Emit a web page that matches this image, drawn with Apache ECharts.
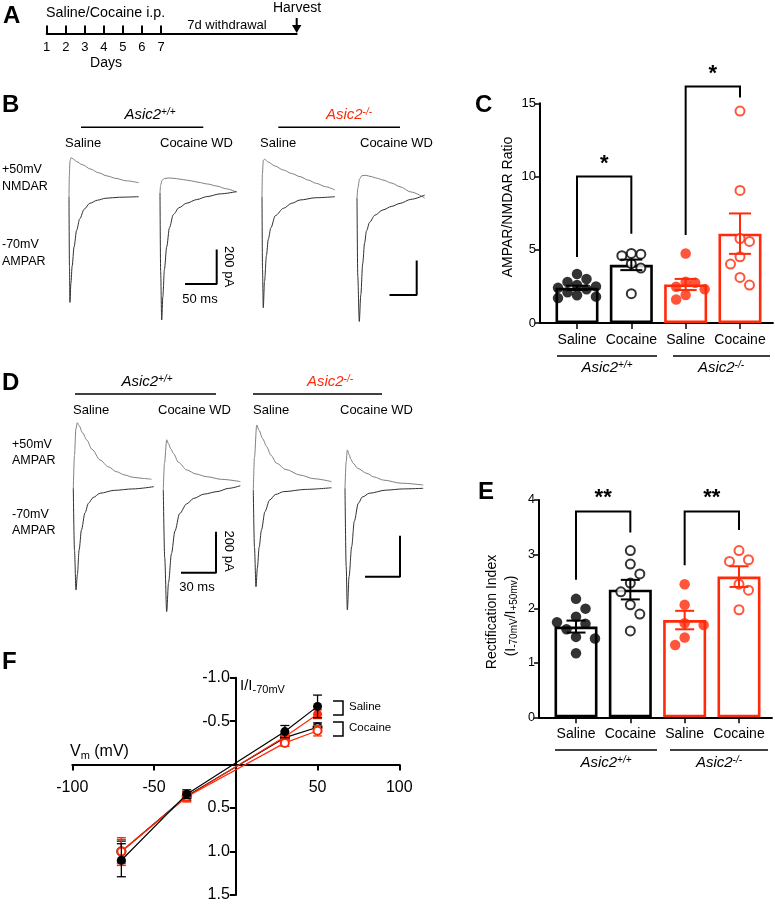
<!DOCTYPE html>
<html><head><meta charset="utf-8">
<script src="https://cdn.jsdelivr.net/npm/echarts@6/dist/echarts.min.js"></script>
<style>html,body{margin:0;padding:0;background:#fff}#c{width:775px;height:904px}</style>
</head><body><div id="c"></div>
<script>
// ================= DATA =================
const groupNames = ['Saline', 'Cocaine', 'Saline', 'Cocaine'];
const genotypeWT = 'Asic2';
// Panel A
const days = [1, 2, 3, 4, 5, 6, 7];
// Panel C : AMPAR/NMDAR ratio
const cMeans = [2.40, 3.97, 2.63, 6.10];
const cSem = [0.15, 0.36, 0.38, 1.38];
const cWtSaline = [3.35, 3.0, 2.8, 2.6, 2.5, 2.4, 2.3, 2.1, 1.9, 1.8, 1.7];
const cWtCocaine = [4.6, 4.7, 4.75, 4.05, 3.75, 2.0];
const cKoSaline = [4.75, 2.82, 2.75, 2.48, 2.3, 1.91, 1.61];
const cKoCocaine = [14.47, 9.05, 5.77, 5.57, 4.52, 4.02, 3.11, 2.59];
const cBrackets = [[1, 2, 10.0, 4.5, 6.1, '*'], [3, 4, 16.15, 6.0, 15.4, '*']];
// Panel E : rectification index
const eMeans = [1.67, 2.35, 1.79, 2.59];
const eSem = [0.11, 0.18, 0.17, 0.19];
const eWtSaline = [2.18, 2.0, 1.85, 1.75, 1.72, 1.62, 1.48, 1.45, 1.18];
const eWtCocaine = [3.07, 2.82, 2.64, 2.47, 2.31, 2.07, 1.90, 1.59];
const eKoSaline = [2.45, 2.07, 1.73, 1.70, 1.47, 1.33];
const eKoCocaine = [3.07, 2.90, 2.87, 2.45, 2.34, 1.98];
const eBrackets = [[1, 2, 3.79, 2.53, 3.40, '**'], [3, 4, 3.79, 2.80, 3.45, '**']];
// Panel F : I-V relation
const fVm = [-70, -30, 30, 50];
const fWtSaline = [1.10, 0.34, -0.38, -0.67];
const fWtSalineSem = [0.19, 0.05, 0.07, 0.13];
const fWtCocaine = [1.00, 0.36, -0.31, -0.43];
const fWtCocaineSem = [0.12, 0.05, 0.04, 0.05];
const fKoSaline = [1.00, 0.37, -0.32, -0.58];
const fKoSalineSem = [0.16, 0.06, 0.04, 0.05];
const fKoCocaine = [1.00, 0.37, -0.25, -0.39];
const fKoCocaineSem = [0.14, 0.05, 0.04, 0.06];
// Panel B traces [ms, pA]
const bWtSalNmda = [[0,0],[0.5,120],[1.5,205],[3,225],[6,220],[12,203],[21,185],[34,160],[47,138],[60,120],[74,106],[90,92],[110,81]];
const bWtSalAmpa = [[0,0],[0.7,-400],[1.5,-611],[3,-500],[5,-400],[8,-290],[12,-195],[17,-128],[24,-72],[33,-38],[45,-20],[58,-9],[80,-3],[110,0]];
const bWtCocNmda = [[0,0],[1,45],[3,72],[7,84],[15,87],[26,83],[37,77],[50,70],[60,62],[75,52],[90,40],[105,24],[121,5]];
const bWtCocAmpa = [[0,0],[1,-450],[2.7,-734],[4.5,-600],[7,-440],[10.6,-311],[15,-200],[21,-125],[30,-85],[42,-59],[58,-38],[74,-21],[95,-5],[121,8]];
const bKoSalNmda = [[0,0],[0.6,130],[2,210],[4,216],[10,200],[20,178],[34,154],[47,134],[60,116],[73,96],[86,77],[100,58],[115,39]];
const bKoSalAmpa = [[0,0],[0.8,-420],[2,-642],[4,-490],[7,-340],[10,-245],[14,-180],[21,-110],[34,-67],[47,-38],[60,-19],[85,-6],[115,0]];
const bKoCocNmda = [[0,0],[1.5,60],[4,110],[8,130],[14,131],[22,124],[32,114],[41,104],[55,86],[68,65],[85,35],[107,0]];
const bKoCocAmpa = [[0,0],[1.2,-450],[3.6,-714],[6,-560],[9,-380],[12,-260],[15,-190],[20,-140],[28,-100],[41,-69],[55,-48],[68,-31],[85,-8],[107,17]];
// Panel D traces [ms, pA]
const dWtSalP50 = [[0,0],[1,160],[2.2,290],[3.4,320],[5,305],[8,270],[11.5,236],[16,190],[23,138],[30,105],[37,81],[44,65],[51,54],[60,48],[67,44]];
const dWtSalM70 = [[0,0],[1,-300],[2.3,-496],[3.5,-420],[5,-300],[7,-203],[10,-120],[13,-73],[17,-45],[23,-24],[35,-10],[51,-3],[69,8]];
const dWtCocP50 = [[0,0],[1,130],[2.9,245],[4.5,225],[6.5,200],[8.6,179],[13,135],[20,98],[28,78],[37,65],[50,52],[66,41]];
const dWtCocM70 = [[0,0],[1.2,-330],[2.9,-593],[4.5,-450],[7,-310],[10,-200],[14,-115],[20,-68],[26,-41],[35,-20],[46,-8],[56,8],[66,21]];
const dKoSalP50 = [[0,0],[1,160],[2.9,317],[5,290],[8,250],[11.5,211],[15,170],[20,130],[28,100],[40,73],[52,55],[67,41]];
const dKoSalM70 = [[0,0],[1,-280],[2.3,-472],[3.5,-380],[5,-280],[7,-195],[10,-105],[14,-49],[19,-22],[26,-8],[45,3],[67,11]];
const dKoCocP50 = [[0,0],[1,130],[2,187],[3.5,165],[5,142],[7,122],[11,97],[18.6,73],[25,55],[33,40],[48,25],[67,16]];
const dKoCocM70 = [[0,0],[1,-380],[2,-593],[3.5,-430],[5.7,-285],[8,-160],[11.4,-73],[15,-42],[21,-24],[35,-9],[50,-3],[67,0]];
// scale bars  [ms, pA]
const scaleB = [50, 200], scaleB2 = [43, 200], scaleD = [30, 200], scaleD2 = [30, 200];

// ================= STYLE / LAYOUT =================
const FONT = '"Liberation Sans", Arial, Helvetica, sans-serif';
const RED = '#ff2a0a', BLK = '#000';
const groupColors = [BLK, BLK, RED, RED];
const groupFilled = [true, false, true, false];

const grids = [], xAxes = [], yAxes = [], series = [];
function addGrid(g, xa, ya) {
  grids.push(g);
  const gi = grids.length - 1;
  xAxes.push(Object.assign({gridIndex: gi}, xa));
  yAxes.push(Object.assign({gridIndex: gi}, ya));
  return gi;
}
const hiddenAxis = (min, max) => ({type: 'value', min, max, show: false, splitLine: {show: false}});

// ---------- trace panels ----------
function traceGrid(x0, y0, pxMs, pxPa, tMin, tMax, pMin, pMax) {
  return addGrid({left: x0 + tMin * pxMs, top: y0 - pMax * pxPa,
    width: (tMax - tMin) * pxMs, height: (pMax - pMin) * pxPa},
    hiddenAxis(tMin, tMax), hiddenAxis(pMin, pMax));
}
function traceSeries(gi, data, color, w) {
  series.push({type: 'line', xAxisIndex: gi, yAxisIndex: gi, data, showSymbol: false, symbol: 'none',
    smooth: 0.3, smoothMonotone: 'x', lineStyle: {color, width: w}, silent: true, clip: false, animation: false});
}
const bPx = [0.633, 0.173], dPx = [1.167, 0.205];
const bOrig = [[69, 196.7], [160, 193], [262, 196.7], [357, 198]];
const dOrig = [[73.3, 488.3], [163.3, 490], [253.3, 490], [345, 488.3]];
const bTr = [[bWtSalNmda, bWtSalAmpa], [bWtCocNmda, bWtCocAmpa], [bKoSalNmda, bKoSalAmpa], [bKoCocNmda, bKoCocAmpa]];
const dTr = [[dWtSalP50, dWtSalM70], [dWtCocP50, dWtCocM70], [dKoSalP50, dKoSalM70], [dKoCocP50, dKoCocM70]];
bTr.forEach((tr, i) => {
  const gi = traceGrid(bOrig[i][0], bOrig[i][1], bPx[0], bPx[1], -5, 130, -800, 300);
  traceSeries(gi, tr[0], '#808080', 1);
  traceSeries(gi, tr[1], '#303030', 1);
});
dTr.forEach((tr, i) => {
  const gi = traceGrid(dOrig[i][0], dOrig[i][1], dPx[0], dPx[1], -3, 75, -700, 400);
  traceSeries(gi, tr[0], '#808080', 1);
  traceSeries(gi, tr[1], '#303030', 1);
});
function scaleBar(cx, cy, px, sb) {
  const gi = addGrid({left: cx - sb[0] * px[0], top: cy - sb[1] * px[1], width: sb[0] * px[0], height: sb[1] * px[1]},
    hiddenAxis(0, sb[0]), hiddenAxis(0, sb[1]));
  series.push({type: 'line', xAxisIndex: gi, yAxisIndex: gi, data: [[0, 0], [sb[0], 0], [sb[0], sb[1]]],
    showSymbol: false, symbol: 'none', lineStyle: {color: '#000', width: 2}, clip: false, animation: false});
}
scaleBar(216.7, 284, bPx, scaleB);
scaleBar(416.7, 295, bPx, scaleB2);
scaleBar(216, 572.7, dPx, scaleD);
scaleBar(400, 576.7, dPx, scaleD2);

// ---------- Panel A timeline ----------
(function () {
  addGrid({left: 46.7, top: 20, width: 250, height: 13.5},
    {type: 'value', min: 1, max: 1 + 250 / 19.05, splitLine: {show: false},
      axisLine: {lineStyle: {color: '#000', width: 2}},
      axisTick: {customValues: days, inside: true, length: 8, lineStyle: {color: '#000', width: 2}},
      axisLabel: {customValues: days, color: '#000', fontSize: 13, fontFamily: FONT, margin: 7}},
    {type: 'value', show: false, min: 0, max: 1});
})();

// ---------- bar panels C & E ----------
function beeswarm(vals, pxPerUnit, size, gap) {
  const order = vals.map((v, i) => i).sort((a, b) => vals[b] - vals[a]);
  const placed = [], offs = new Array(vals.length).fill(0);
  const step = size * 0.95;
  let side = 1;
  order.forEach(i => {
    const py = vals[i] * pxPerUnit;
    const cands = [0, side, -side, 2 * side, -2 * side, 3 * side, -3 * side];
    for (const c of cands) {
      const dx = c * step;
      if (placed.every(p => (p[0] - dx) ** 2 + (p[1] - py) ** 2 >= gap ** 2)) {
        offs[i] = dx; placed.push([dx, py]);
        if (c !== 0) side = -Math.sign(c);
        break;
      }
    }
  });
  return offs;
}
function barPanel(cfg) {
  const xMin = 0.319, xMax = 4.607;
  const gi = addGrid({left: cfg.left, top: cfg.top, width: (xMax - xMin) * 54.33, height: cfg.height},
    {type: 'value', min: xMin, max: xMax, splitLine: {show: false},
      axisLine: {onZero: false, lineStyle: {color: '#000', width: 2}},
      axisTick: {customValues: [1, 2, 3, 4], length: 6, lineStyle: {color: '#000', width: 1.5}},
      axisLabel: {customValues: [1, 2, 3, 4], formatter: v => groupNames[Math.round(v) - 1], color: '#000',
        fontSize: 14, fontFamily: FONT, margin: 10}},
    {type: 'value', min: 0, max: cfg.yMax, interval: cfg.yInt, splitLine: {show: false},
      axisLine: {show: true, lineStyle: {color: '#000', width: 2}},
      axisTick: {show: true, length: 5, lineStyle: {color: '#000', width: 1.5}},
      axisLabel: {color: '#000', fontSize: cfg.tickFont, fontFamily: FONT, margin: 4}});
  series.push({type: 'bar', xAxisIndex: gi, yAxisIndex: gi, barWidth: 43, z: 2, animation: false, silent: true,
    data: cfg.means.map((m, i) => ({value: [i + 1, m], itemStyle: {color: '#fff', borderColor: groupColors[i], borderWidth: 2.6}}))});
  const pxPerUnit = cfg.height / cfg.yMax;
  cfg.points.forEach((vals, g) => {
    const offs = beeswarm(vals, pxPerUnit, 10, cfg.gap);
    series.push({type: 'scatter', xAxisIndex: gi, yAxisIndex: gi, z: 3, animation: false, silent: true,
      symbol: 'circle', symbolSize: groupFilled[g] ? 10.5 : 9,
      itemStyle: groupFilled[g] ? {color: groupColors[g]} : {color: '#fff', borderColor: groupColors[g], borderWidth: 2},
      data: vals.map((v, k) => ({value: [g + 1, v], symbolOffset: [offs[k], 0]}))});
  });
  series.push({type: 'custom', xAxisIndex: gi, yAxisIndex: gi, z: 4, animation: false, silent: true,
    data: cfg.means.map((m, i) => [i + 1, m, cfg.sem[i]]),
    renderItem: (p, api) => {
      const c = groupColors[p.dataIndex];
      const t = api.coord([api.value(0), api.value(1) + api.value(2)]);
      const b = api.coord([api.value(0), api.value(1) - api.value(2)]);
      const h = cfg.cap / 2, st = {stroke: c, lineWidth: 2};
      return {type: 'group', children: [
        {type: 'line', shape: {x1: t[0], y1: t[1], x2: b[0], y2: b[1]}, style: st},
        {type: 'line', shape: {x1: t[0] - h, y1: t[1], x2: t[0] + h, y2: t[1]}, style: st},
        {type: 'line', shape: {x1: b[0] - h, y1: b[1], x2: b[0] + h, y2: b[1]}, style: st}]};
    }});
  series.push({type: 'custom', xAxisIndex: gi, yAxisIndex: gi, z: 5, animation: false, silent: true, clip: false,
    data: cfg.brackets.map(b => b.slice(0, 5)),
    renderItem: (p, api) => {
      const br = cfg.brackets[p.dataIndex];
      const p1 = api.coord([br[0], br[3]]), p2 = api.coord([br[0], br[2]]);
      const p3 = api.coord([br[1], br[2]]), p4 = api.coord([br[1], br[4]]);
      return {type: 'group', children: [
        {type: 'polyline', shape: {points: [p1, p2, p3, p4]}, style: {stroke: '#000', lineWidth: 2, fill: null}},
        {type: 'text', x: (p2[0] + p3[0]) / 2, y: p2[1] - 2,
          style: {text: br[5], fontSize: 22, fontWeight: 'bold', fontFamily: FONT, fill: '#000',
            textAlign: 'center', textVerticalAlign: 'bottom'}}]};
    }});
}
barPanel({left: 540, top: 103.3, height: 219.7, yMax: 15, yInt: 5, tickFont: 13, cap: 22, gap: 9,
  means: cMeans, sem: cSem, points: [cWtSaline, cWtCocaine, cKoSaline, cKoCocaine], brackets: cBrackets});
barPanel({left: 539, top: 500, height: 217.3, yMax: 4, yInt: 1, tickFont: 12.5, cap: 19, gap: 11,
  means: eMeans, sem: eSem, points: [eWtSaline, eWtCocaine, eKoSaline, eKoCocaine], brackets: eBrackets});

// ---------- Panel F ----------
(function () {
  const fg = {left: 72.3, top: 677.7, width: 327, height: 217.3};
  const xMin = -100, xMax = 100, yMin = -1, yMax = 1.5;
  const zeroY = fg.top + fg.height * (0 - yMin) / (yMax - yMin);
  const zeroX = fg.left + fg.width * (0 - xMin) / (xMax - xMin);
  const gi = addGrid(fg,
    {type: 'value', min: xMin, max: xMax, interval: 50, splitLine: {show: false},
      axisLine: {onZero: false, lineStyle: {color: '#000', width: 2}},
      offset: -(fg.top + fg.height - zeroY),
      axisTick: {length: 6, lineStyle: {color: '#000', width: 2}},
      axisLabel: {formatter: v => v === 0 ? '' : String(v), color: '#000', fontSize: 16, fontFamily: FONT, margin: 15}},
    {type: 'value', min: yMin, max: yMax, interval: 0.5, inverse: true, splitLine: {show: false},
      axisLine: {show: true, onZero: false, lineStyle: {color: '#000', width: 2}},
      offset: -(zeroX - fg.left),
      axisTick: {show: true, length: 6, lineStyle: {color: '#000', width: 2}},
      axisLabel: {formatter: v => v === 0 ? '' : v.toFixed(1), color: '#000', fontSize: 16, fontFamily: FONT, margin: 6}});
  const sets = [
    {v: fWtCocaine, s: fWtCocaineSem, c: BLK, filled: false},
    {v: fKoSaline, s: fKoSalineSem, c: RED, filled: true},
    {v: fKoCocaine, s: fKoCocaineSem, c: RED, filled: false},
    {v: fWtSaline, s: fWtSalineSem, c: BLK, filled: true}];
  sets.forEach((st, k) => {
    series.push({type: 'custom', xAxisIndex: gi, yAxisIndex: gi, z: 2 + k * 2, animation: false, silent: true,
      data: fVm.map((x, i) => [x, st.v[i], st.s[i]]),
      renderItem: (p, api) => {
        const t = api.coord([api.value(0), api.value(1) - api.value(2)]);
        const b = api.coord([api.value(0), api.value(1) + api.value(2)]);
        const ss = {stroke: st.c, lineWidth: 1.3};
        return {type: 'group', children: [
          {type: 'line', shape: {x1: t[0], y1: t[1], x2: b[0], y2: b[1]}, style: ss},
          {type: 'line', shape: {x1: t[0] - 4.5, y1: t[1], x2: t[0] + 4.5, y2: t[1]}, style: ss},
          {type: 'line', shape: {x1: b[0] - 4.5, y1: b[1], x2: b[0] + 4.5, y2: b[1]}, style: ss}]};
      }});
    series.push({type: 'line', xAxisIndex: gi, yAxisIndex: gi, z: 3 + k * 2, animation: false, silent: true,
      data: fVm.map((x, i) => [x, st.v[i]]), symbol: 'circle', symbolSize: st.filled ? 9 : 8,
      lineStyle: {color: st.c, width: 1.2},
      itemStyle: st.filled ? {color: st.c} : {color: '#fff', borderColor: st.c, borderWidth: 2}});
  });
})();

// ---------- text / annotation graphics ----------
const G = [];
function T(text, x, y, o) {
  G.push({type: 'text', x, y, silent: true, rotation: (o && o.rot) || 0,
    style: Object.assign({text, fontSize: 13, fontFamily: FONT, fill: '#000', textAlign: 'left', textVerticalAlign: 'middle'}, o || {})});
}
function L(x1, y1, x2, y2, w) {
  G.push({type: 'line', silent: true, shape: {x1, y1, x2, y2}, style: {stroke: '#000', lineWidth: w || 2}});
}
const richGeno = (col) => ({
  i: {fontStyle: 'italic', fontSize: 15, fontFamily: FONT, fill: col},
  s: {fontStyle: 'italic', fontSize: 10, fontFamily: FONT, fill: col, verticalAlign: 'top', padding: [0, 0, 6, 0]}});
function geno(x, y, sup, col) {
  G.push({type: 'text', x, y, silent: true,
    style: {text: '{i|' + genotypeWT + '}{s|' + sup + '}', rich: richGeno(col), textAlign: 'center', textVerticalAlign: 'middle'}});
}
// panel letters
[['A', 3, 16], ['B', 2, 105], ['C', 475, 105], ['D', 2, 383], ['E', 478, 492], ['F', 2, 662]].forEach(l =>
  T(l[0], l[1], l[2], {fontSize: 24, fontWeight: 'bold'}));
// Panel A texts
T('Saline/Cocaine i.p.', 46, 13, {fontSize: 14.3});
T('7d withdrawal', 227, 25, {fontSize: 13, textAlign: 'center'});
T('Harvest', 297, 8, {fontSize: 14, textAlign: 'center'});
T('Days', 106, 63, {fontSize: 14, textAlign: 'center'});
L(296.7, 18, 296.7, 27, 2);
G.push({type: 'polygon', silent: true, shape: {points: [[292, 25], [301.4, 25], [296.7, 33]]}, style: {fill: '#000'}});
// Panel B header
geno(150, 115, '+/+', '#000');
geno(349, 115, '-/-', RED);
L(81, 127.3, 203.3, 127.3, 1.6); L(278.3, 127.3, 400, 127.3, 1.6);
T('Saline', 65, 143.3); T('Cocaine WD', 160, 143.3); T('Saline', 260, 143.3); T('Cocaine WD', 360, 143.3);
T('+50mV', 2, 170, {fontSize: 12.5}); T('NMDAR', 2, 186.7, {fontSize: 12.5});
T('-70mV', 2, 245, {fontSize: 12.5}); T('AMPAR', 2, 261.7, {fontSize: 12.5});
T('200 pA', 229, 266.5, {fontSize: 13, textAlign: 'center', rot: -Math.PI / 2});
T('50 ms', 200, 299, {fontSize: 13, textAlign: 'center'});
// Panel D header
geno(147, 382, '+/+', '#000');
geno(330, 382, '-/-', RED);
L(75, 394, 216, 394, 1.6); L(253, 394, 382, 394, 1.6);
T('Saline', 73, 410); T('Cocaine WD', 158, 410); T('Saline', 253, 410); T('Cocaine WD', 340, 410);
T('+50mV', 12, 445, {fontSize: 12.5}); T('AMPAR', 12, 461, {fontSize: 12.5});
T('-70mV', 12, 515, {fontSize: 12.5}); T('AMPAR', 12, 531, {fontSize: 12.5});
T('200 pA', 229, 551, {fontSize: 13, textAlign: 'center', rot: -Math.PI / 2});
T('30 ms', 197, 587, {fontSize: 13, textAlign: 'center'});
// Panel C labels
T('AMPAR/NMDAR Ratio', 508, 207, {fontSize: 14, textAlign: 'center', rot: Math.PI / 2});
L(557, 356, 657, 356, 1.6); L(673, 356, 770, 356, 1.6);
geno(607, 368, '+/+', '#000'); geno(721, 368, '-/-', '#000');
// Panel E labels
T('Rectification Index', 492, 612, {fontSize: 14, textAlign: 'center', rot: Math.PI / 2});
G.push({type: 'text', x: 511, y: 616, rotation: Math.PI / 2, silent: true,
  style: {text: '{a|(I}{b|-70mV}{a|/I}{b|+50mv}{a|)}', textAlign: 'center', textVerticalAlign: 'middle',
    rich: {a: {fontSize: 14, fontFamily: FONT, fill: '#000'}, b: {fontSize: 10, fontFamily: FONT, fill: '#000', verticalAlign: 'bottom', padding: [6, 0, 0, 0]}}}});
L(555, 750, 657, 750, 1.6); L(670, 750, 768, 750, 1.6);
geno(606, 763, '+/+', '#000'); geno(719, 763, '-/-', '#000');
// Panel F labels
G.push({type: 'text', x: 70, y: 752, silent: true,
  style: {text: '{a|V}{b|m}{a| (mV)}', textVerticalAlign: 'middle',
    rich: {a: {fontSize: 16, fontFamily: FONT, fill: '#000'}, b: {fontSize: 11, fontFamily: FONT, fill: '#000', padding: [8, 0, 0, 0]}}}});
G.push({type: 'text', x: 240, y: 686, silent: true,
  style: {text: '{a|I/I}{b|-70mV}', textVerticalAlign: 'middle',
    rich: {a: {fontSize: 15, fontFamily: FONT, fill: '#000'}, b: {fontSize: 11, fontFamily: FONT, fill: '#000', padding: [7, 0, 0, 0]}}}});
G.push({type: 'polyline', silent: true, shape: {points: [[333, 701], [343, 701], [343, 715], [333, 715]]}, style: {stroke: '#000', lineWidth: 1.5, fill: null}});
G.push({type: 'polyline', silent: true, shape: {points: [[333, 722], [343, 722], [343, 736], [333, 736]]}, style: {stroke: '#000', lineWidth: 1.5, fill: null}});
T('Saline', 349, 707, {fontSize: 11.5}); T('Cocaine', 349, 728, {fontSize: 11.5});

const chart = echarts.init(document.getElementById('c'), null, {renderer: 'canvas'});
chart.setOption({
  animation: false, backgroundColor: '#fff', textStyle: {fontFamily: FONT},
  grid: grids, xAxis: xAxes, yAxis: yAxes, series, graphic: {elements: G}
});
</script></body></html>
